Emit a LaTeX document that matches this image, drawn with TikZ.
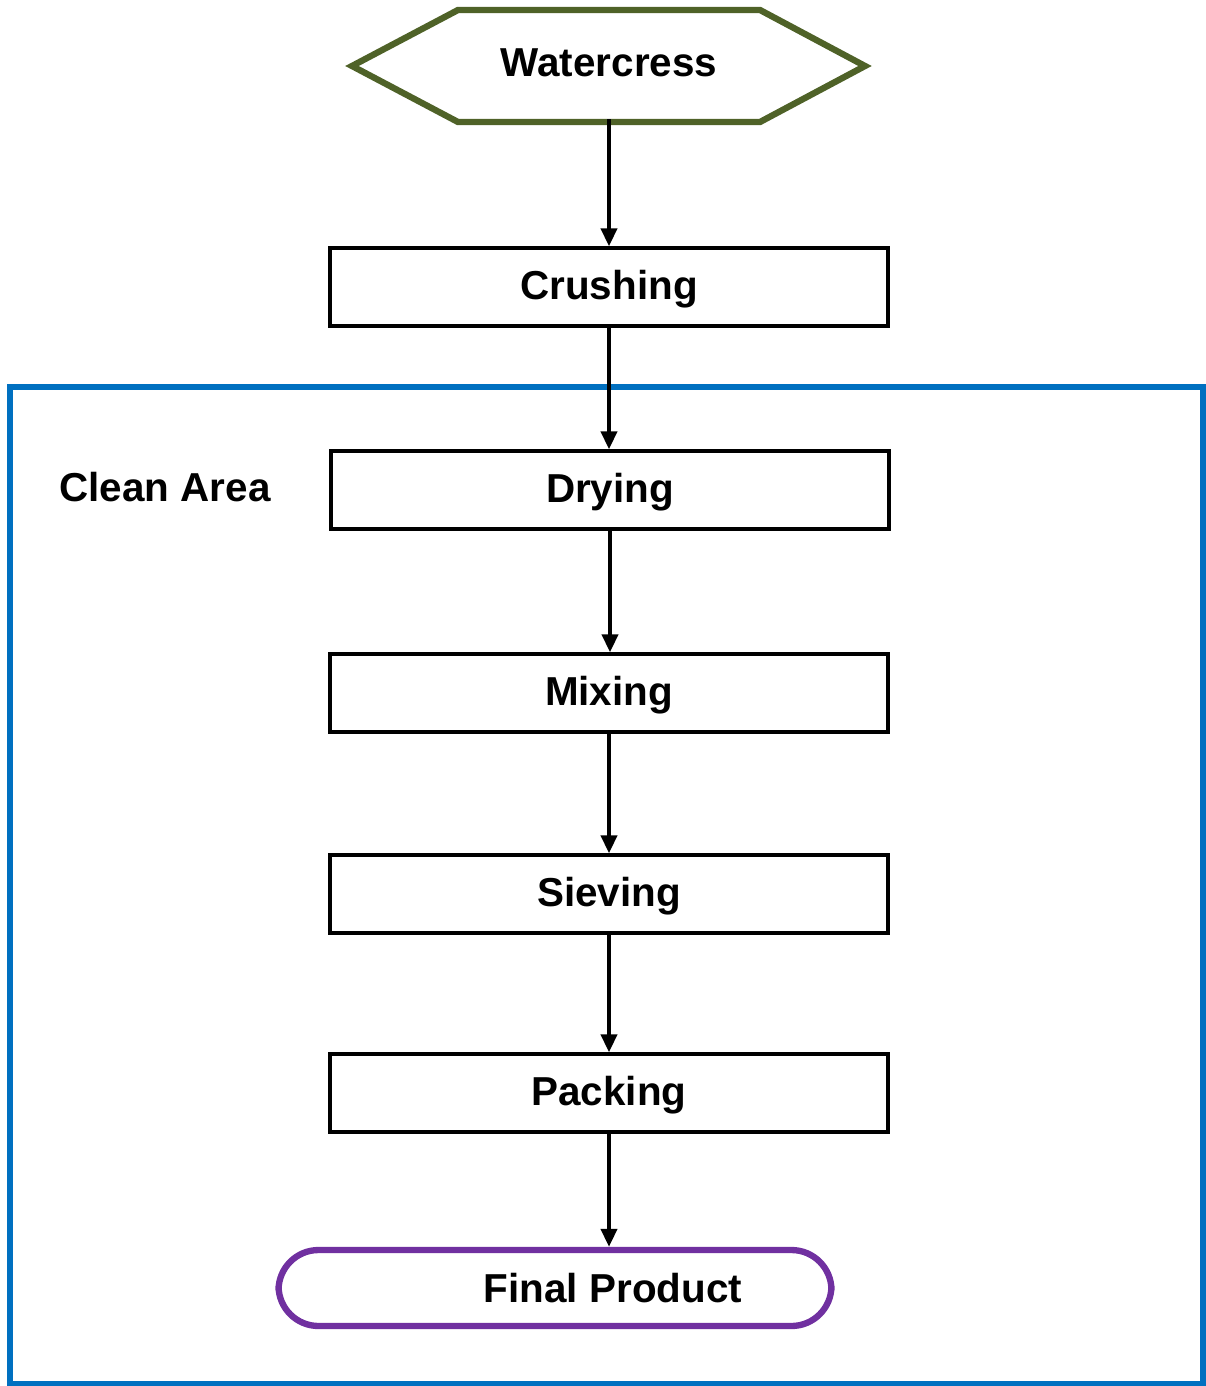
\documentclass[tikz,border=0pt]{standalone}
\usepackage{fontspec}
\setmainfont{Liberation Sans}
\usetikzlibrary{arrows.meta}
\definecolor{hexgreen}{RGB}{79,98,40}
\definecolor{areablue}{RGB}{0,112,192}
\definecolor{endpurple}{RGB}{112,48,160}
\tikzset{
  stepbox/.style={draw, line width=1.9pt, minimum width=11.16cm, minimum height=1.56cm, inner sep=0pt, text depth=0.1cm},
  flow/.style={line width=2.2pt, -{Triangle[length=0.36cm, width=0.32cm]}},
  every node/.style={font=\fontsize{23}{27}\selectfont\bfseries}
}
\begin{document}
\begin{tikzpicture}[x=0.02cm, y=-0.02cm]
	\useasboundingbox (0,0) rectangle (1205,1386);
	% clean area
	\draw[areablue, line width=3.4pt] (10,387) rectangle (1203,1384);
	\node at (165,487) (area) {Clean Area};
	% start
	\draw[hexgreen, line width=3.6pt, line join=miter] (352,66) -- (458,10) -- (760,10) -- (865,66) -- (760,122) -- (458,122) -- cycle;
	\node[minimum width=10.26cm, minimum height=2.24cm, inner sep=0pt] at (609,63) (water) {Watercress};
	% steps
	\node[stepbox] at (609,287) (crush) {Crushing};
	\node[stepbox] at (610,490) (dry) {Drying};
	\node[stepbox] at (609,693) (mix) {Mixing};
	\node[stepbox] at (609,894) (sieve) {Sieving};
	\node[stepbox] at (609,1093) (pack) {Packing};
	\node[draw=endpurple, line width=3.6pt, rounded corners=0.8cm, minimum width=11.06cm, minimum height=1.52cm, inner sep=0pt] at (555,1288) (final) {\hspace*{2.32cm}Final Product};
	% arrows
	\draw[flow] (water.south) -- (crush.north);
	\draw[flow] (crush.south) -- (crush.south |- dry.north);
	\draw[flow] (dry.south) -- (dry.south |- mix.north);
	\draw[flow] (mix.south) -- (sieve.north);
	\draw[flow] (sieve.south) -- (pack.north);
	\draw[flow] (pack.south) -- (pack.south |- final.north);
\end{tikzpicture}
\end{document}
